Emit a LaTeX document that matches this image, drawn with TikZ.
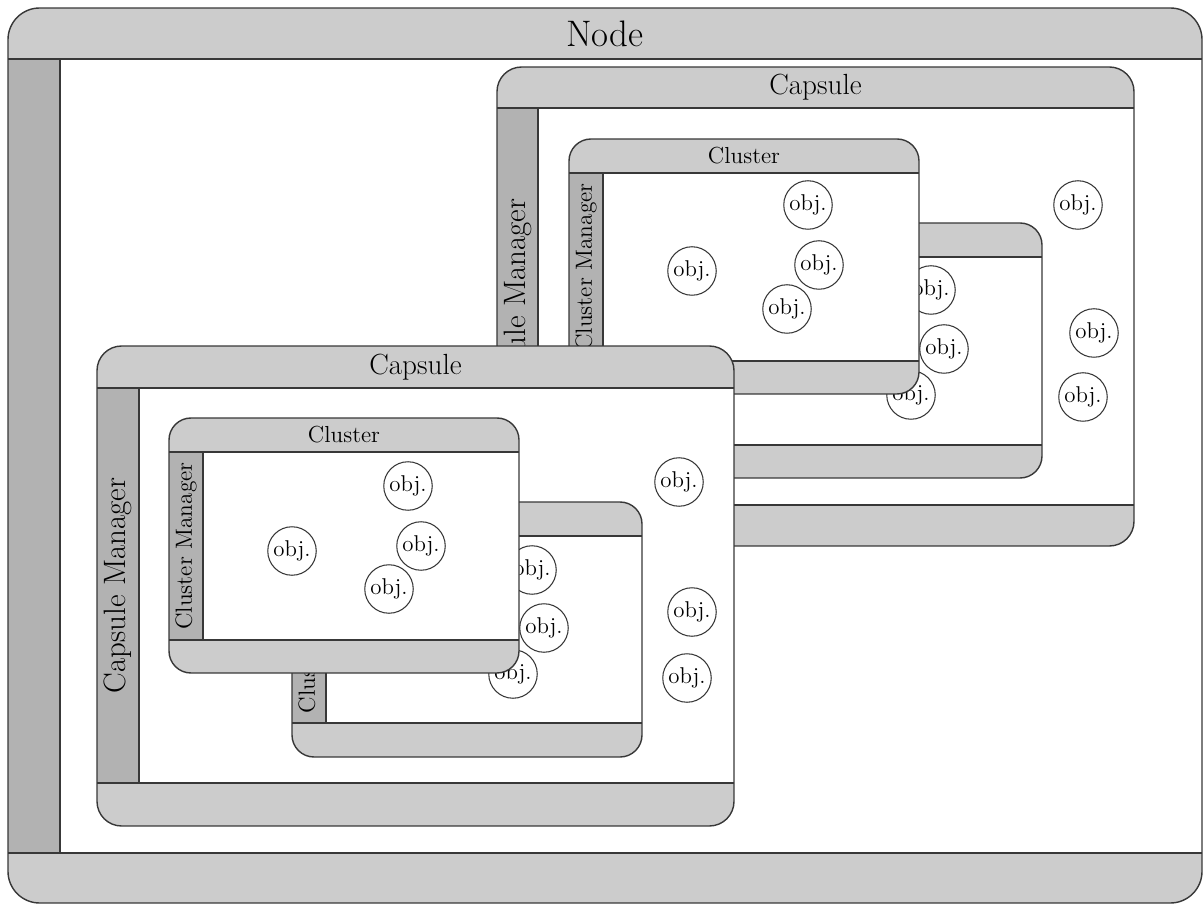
\documentclass[tikz,border=0pt]{standalone}

\definecolor{barfill}{gray}{0.80}
\definecolor{sidefill}{gray}{0.70}
\definecolor{edge}{gray}{0.22}

\tikzset{
  frameline/.style={draw=edge, line width=0.8pt},
  nodetitle/.style={font=\fontsize{21}{25}\selectfont},
  capsuletitle/.style={font=\fontsize{16.6}{20}\selectfont},
  clustertitle/.style={font=\fontsize{13.2}{16}\selectfont},
  capsuleside/.style={font=\fontsize{17.6}{21}\selectfont, rotate=90},
  clusterside/.style={font=\fontsize{13.3}{16}\selectfont, rotate=90},
  objnode/.style={circle, draw=edge, line width=0.6pt, fill=white,
    minimum size=0.97cm, inner sep=0pt, font=\fontsize{13}{15}\selectfont},
}

% A rounded frame with a title bar on top, a manager bar on the left
% and a plain bar at the bottom.
% #1 name, (#2,#3)-(#4,#5) corners, #6 top bar, #7 side bar, #8 bottom bar, #9 radius
\newcommand{\layerframe}[9]{%
  \begin{scope}
    \clip[rounded corners=#9] (#2,#3) rectangle (#4,#5);
    \fill[white] (#2,#3) rectangle (#4,#5);
    \fill[barfill] (#2,#3) rectangle (#4,#3+#6);
    \fill[barfill] (#2,#5-#8) rectangle (#4,#5);
    \fill[sidefill] (#2,#3+#6) rectangle (#2+#7,#5-#8);
  \end{scope}
  \draw[frameline] (#2,#3+#6) -- (#4,#3+#6);
  \draw[frameline] (#2,#5-#8) -- (#4,#5-#8);
  \draw[frameline] (#2+#7,#3+#6) -- (#2+#7,#5-#8);
  \draw[frameline, rounded corners=#9] (#2,#3) rectangle (#4,#5);
  \coordinate (#1-head) at ({(#2+#4)/2},{#3+#6/2});
  \coordinate (#1-side) at ({#2+#7/2},{(#3+#6+#5-#8)/2});
}

\begin{document}
\begin{tikzpicture}[x=0.02cm, y=-0.02cm]
\useasboundingbox (0,0) rectangle (1204,905);

% ---------------- Node ----------------
\layerframe{node}{8}{8}{1202}{903}{51}{52}{50}{18pt}
\node[nodetitle] (nodetitle) at (node-head) {Node};

% ---------------- upper capsule ----------------
\layerframe{capA}{497}{67}{1134}{546}{41}{41}{41}{14pt}
\node[capsuletitle] (capAtitle) at (capA-head) {Capsule};
\node[capsuleside] (capAmgr) at (capA-side) {Capsule Manager};

% rear cluster
\layerframe{clA2}{692}{223}{1042}{478}{34}{34}{33}{12.5pt}
\node[clustertitle] (clA2title) at (clA2-head) {Cluster};
\node[clusterside] (clA2mgr) at (clA2-side) {Cluster Manager};
\node[objnode] (oA5) at (931,290) {obj.};
\node[objnode] (oA6) at (944,349) {obj.};
\node[objnode] (oA7) at (911,395) {obj.};

% front cluster
\layerframe{clA1}{569}{139}{919}{394}{34}{34}{33}{12.5pt}
\node[clustertitle] (clA1title) at (clA1-head) {Cluster};
\node[clusterside] (clA1mgr) at (clA1-side) {Cluster Manager};
\node[objnode] (oA1) at (692,271) {obj.};
\node[objnode] (oA2) at (808,205) {obj.};
\node[objnode] (oA3) at (819,265) {obj.};
\node[objnode] (oA4) at (787,309) {obj.};

% objects held directly by the capsule
\node[objnode] (oA8) at (1078,205) {obj.};
\node[objnode] (oA9) at (1094,333) {obj.};
\node[objnode] (oA10) at (1083,397) {obj.};

% ---------------- lower capsule ----------------
\layerframe{capB}{97}{346}{734}{826}{42}{42}{43}{14pt}
\node[capsuletitle] (capBtitle) at (capB-head) {Capsule};
\node[capsuleside] (capBmgr) at (capB-side) {Capsule Manager};

% rear cluster
\layerframe{clB2}{292}{502}{642}{757}{34}{34}{34}{12.5pt}
\node[clustertitle] (clB2title) at (clB2-head) {Cluster};
\node[clusterside] (clB2mgr) at (clB2-side) {Cluster Manager};
\node[objnode] (oB5) at (532,570) {obj.};
\node[objnode] (oB6) at (544,628) {obj.};
\node[objnode] (oB7) at (513,674) {obj.};

% front cluster
\layerframe{clB1}{169}{418}{519}{673}{34}{34}{33}{12.5pt}
\node[clustertitle] (clB1title) at (clB1-head) {Cluster};
\node[clusterside] (clB1mgr) at (clB1-side) {Cluster Manager};
\node[objnode] (oB1) at (292,551) {obj.};
\node[objnode] (oB2) at (408,486) {obj.};
\node[objnode] (oB3) at (421,546) {obj.};
\node[objnode] (oB4) at (389,589) {obj.};

% objects held directly by the capsule
\node[objnode] (oB8) at (679,482) {obj.};
\node[objnode] (oB9) at (692,612) {obj.};
\node[objnode] (oB10) at (687,678) {obj.};
\end{tikzpicture}
\end{document}
